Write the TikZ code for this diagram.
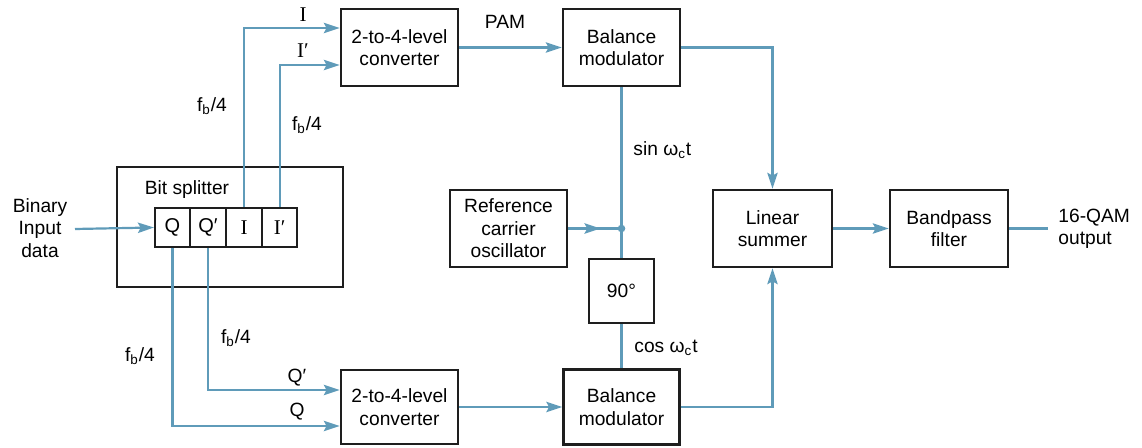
\documentclass[tikz,border=0pt]{standalone}
\usepackage{fontspec}
\setmainfont{Liberation Sans}
\newfontfamily\serifI{Liberation Serif}
\usetikzlibrary{arrows.meta,decorations.markings}
\definecolor{sig}{RGB}{95,155,185}
\definecolor{boxc}{RGB}{30,30,30}
\tikzset{
  blk/.style={draw=boxc,line width=1.2pt,align=center,inner sep=0pt,
    font=\fontsize{9.6}{11.2}\selectfont},
  cell/.style={draw=boxc,line width=1.1pt,inner sep=0pt,minimum height=19.5pt,
    font=\fontsize{10}{12}\selectfont},
  wire/.style={draw=sig,line width=1.1pt},
  arr/.style={wire,-{Stealth[length=8pt,width=5.2pt,inset=1.4pt]}},
  midarr/.style={wire,postaction={decorate},decoration={markings,
    mark=at position -10.5pt with {\arrow[sig]{Stealth[length=8pt,width=5.2pt,inset=1.4pt]}}}},
  lbl/.style={font=\fontsize{9.6}{11.2}\selectfont,inner sep=0pt,align=center},
  slbl/.style={font=\fontsize{10.5}{12}\serifI,inner sep=0pt}
}
\newcommand{\fbq}{f\textsubscript{b}/4}
\begin{document}
\begin{tikzpicture}[x=0.5pt,y=-0.5pt]
\useasboundingbox (0,0) rectangle (1142,448);
% bit splitter
\node[blk,minimum width=113pt,minimum height=60pt] (split) at (230,227) {};
\node[lbl] (bstxt) at (187,190) {Bit splitter};
\node[cell,minimum width=17.5pt] (cQ) at (172.5,227.5) {Q};
\node[cell,minimum width=18pt] (cQp) at (208,227.5) {Q′};
\node[cell,minimum width=18pt,font=\fontsize{10.5}{12}\serifI] (cI) at (244,227.5) {I};
\node[cell,minimum width=17.5pt,font=\fontsize{10.5}{12}\serifI] (cIp) at (279.75,227.5) {I′};
% blocks
\node[blk,minimum width=58.5pt,minimum height=38.5pt] (conv1) at (399.5,47.5) {2-to-4-level\\converter};
\node[blk,minimum width=58.5pt,minimum height=38.5pt] (bm1) at (621.5,47.5) {Balance\\modulator};
\node[blk,minimum width=58.5pt,minimum height=38.5pt] (ref) at (508.5,228.5) {Reference\\carrier\\oscillator};
\node[blk,minimum width=32.5pt,minimum height=32pt] (ninety) at (621.5,291) {90°};
\node[blk,minimum width=58.5pt,minimum height=37pt] (conv2) at (399.5,407) {2-to-4-level\\converter};
\node[blk,minimum width=58pt,minimum height=37.5pt] (bm2) at (621.5,407) {Balance\\modulator};
\node[blk,minimum width=59.5pt,minimum height=38.5pt] (sum) at (772.5,228.5) {Linear\\summer};
\node[blk,minimum width=59pt,minimum height=38.5pt] (bpf) at (949,228.5) {Bandpass\\filter};
% text nodes
\node[lbl] (inp) at (40,228) {Binary\\Input\\data};
\node[lbl,align=left,anchor=west] (outp) at (1058,229) {16-QAM\\output};
\coordinate (inend) at (75,229);
\coordinate (outend) at (1048,228.5);
\coordinate (j) at (621.5,228.5);
% connectors
\draw[arr] (inend) -- (cQ.west);
\draw[arr] (cI.north) |- (conv1.west |- 0,28);
\draw[arr] (cIp.north) |- (conv1.west |- 0,65);
\draw[arr] (cQp.south) |- (conv2.west |- 0,390);
\draw[arr] (cQ.south) |- (conv2.west |- 0,426);
\draw[arr] (conv1) -- (bm1);
\draw[arr] (bm1.east) -| (sum.north);
\draw[wire] (bm1.south) -- (j);
\draw[midarr] (ref.east) -- (j);
\fill[sig] (j) circle (1.9pt);
\draw[wire] (j) -- (ninety.north);
\draw[wire] (ninety.south) -- (bm2.north);
\draw[arr] (conv2) -- (bm2);
\draw[arr] (bm2.east) -| (sum.south);
\draw[arr] (sum) -- (bpf);
\draw[wire] (bpf.east) -- (outend);
% labels
\node[slbl] (lI) at (303,15) {I};
\node[slbl] (lIp) at (303,51) {I′};
\node[lbl] (f1) at (212,106) {\fbq};
\node[lbl] (f2) at (307,125) {\fbq};
\node[lbl] (f3) at (236,338) {\fbq};
\node[lbl] (f4) at (140,356) {\fbq};
\node[lbl] (pam) at (505,22) {PAM};
\node[lbl,anchor=west] (sin) at (633,150) {sin ω\textsubscript{c}t};
\node[lbl,anchor=west] (cos) at (634,348) {cos ω\textsubscript{c}t};
\node[lbl] (lQp) at (297,378) {Q′};
\node[lbl] (lQ) at (297,412) {Q};
\end{tikzpicture}
\end{document}
